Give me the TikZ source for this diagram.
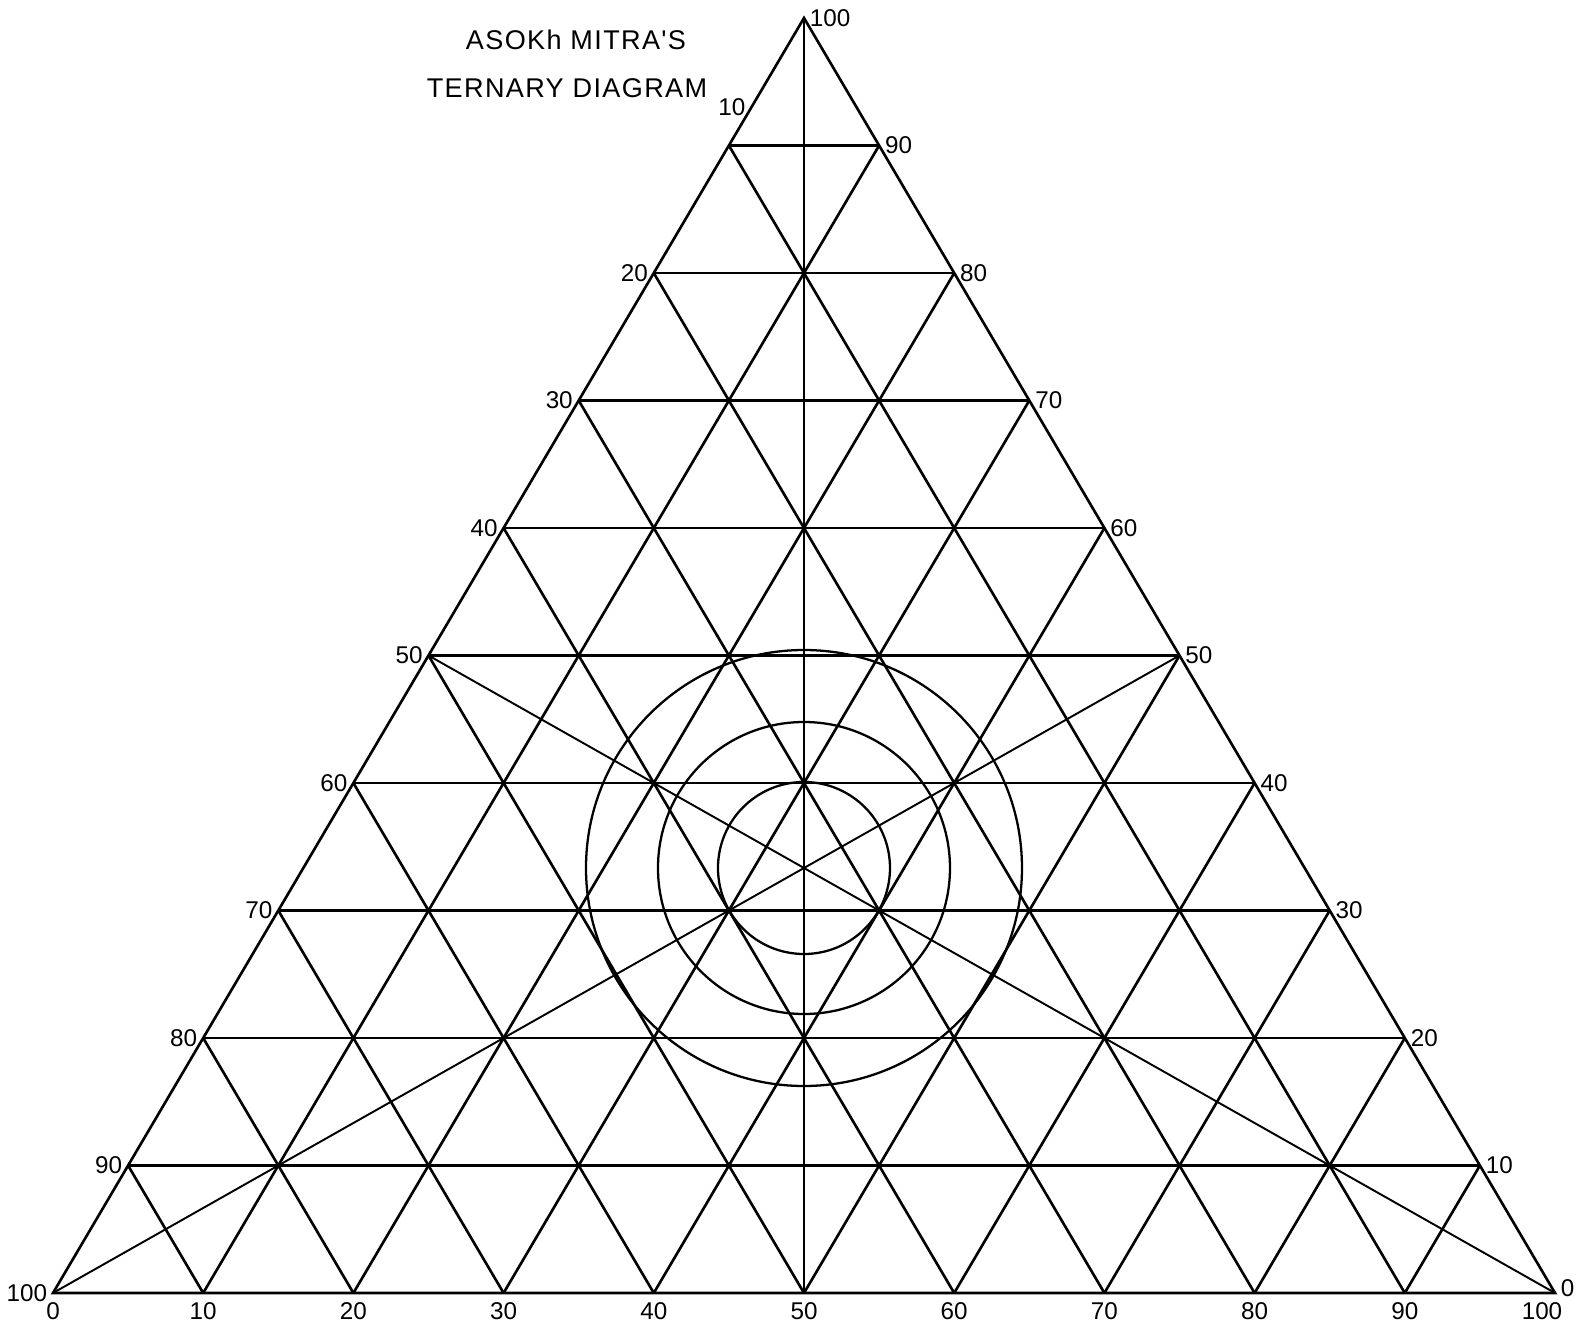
\documentclass[tikz,border=0pt]{standalone}
\usepackage{fontspec}
\setmainfont{Liberation Sans}
\newfontfamily\lettering[LetterSpace=5.0]{Liberation Sans}
\usepackage{tikz}
\usetikzlibrary{calc}

\begin{document}
\begin{tikzpicture}[
    gridline/.style={line width=0.75pt, line join=miter},
    median/.style={line width=0.55pt},
    ring/.style={line width=0.65pt},
    tick/.style={font=\fontsize{6.9}{8}\selectfont, inner sep=1.5pt},
    heading/.style={font=\lettering\fontsize{7.7}{9}\selectfont}
]
    \useasboundingbox (0,0) rectangle (15.81,13.27);

    % Corners
    \coordinate (A) at (0.53,0.34);
    \coordinate (B) at (15.55,0.34);
    \coordinate (C) at (8.04,13.09);
    \coordinate (G) at (barycentric cs:A=1,B=1,C=1);

    % Points on the sides
    \foreach \i in {0,...,10} {
        \coordinate (b\i) at ($(A)!\i/10!(B)$);
        \coordinate (l\i) at ($(A)!\i/10!(C)$);
        \coordinate (r\i) at ($(B)!\i/10!(C)$);
    }

    % Title
    \node[heading] (title1) at (5.76,12.87) {ASOKh\ MITRA'S};
    \node[heading] (title2) at (5.67,12.39) {TERNARY DIAGRAM};

    % Triangle
    \draw[gridline] (A) -- (B) -- (C) -- cycle;

    % Grid lines
    \foreach \i [evaluate=\i as \j using int(10-\i)] in {1,...,9} {
        \draw[gridline] (l\i) -- (r\i);
        \draw[gridline] (b\i) -- (l\i);
        \draw[gridline] (b\i) -- (r\j);
    }

    % Medians
    \draw[median] (C) -- (b5);
    \draw[median] (A) -- (r5);
    \draw[median] (B) -- (l5);

    % Circles
    \draw[ring] (G) circle (0.86);
    \draw[ring] (G) circle (1.46);
    \draw[ring] (G) circle (2.18);

    % Left side
    \node[tick, anchor=east] (lt0) at (l0) {100};
    \foreach \i [evaluate=\i as \v using int(100-10*\i)] in {1,...,8} {
        \node[tick, anchor=east] (lt\i) at (l\i) {\v};
    }
    \node[tick, anchor=east] (lt9) at ($(A)!0.93!(C)$) {10};

    % Right side
    \node[tick, anchor=south west, yshift=-0.1cm] (rt0) at (r0) {0};
    \foreach \i [evaluate=\i as \v using int(10*\i)] in {1,...,10} {
        \node[tick, anchor=west] (rt\i) at (r\i) {\v};
    }

    % Base
    \foreach \i [evaluate=\i as \v using int(10*\i)] in {0,...,9} {
        \node[tick, anchor=north, yshift=-0.04cm] (bt\i) at (b\i) {\v};
    }
    \node[tick, anchor=north, yshift=-0.04cm, xshift=-0.13cm] (bt10) at (b10) {100};
\end{tikzpicture}
\end{document}
